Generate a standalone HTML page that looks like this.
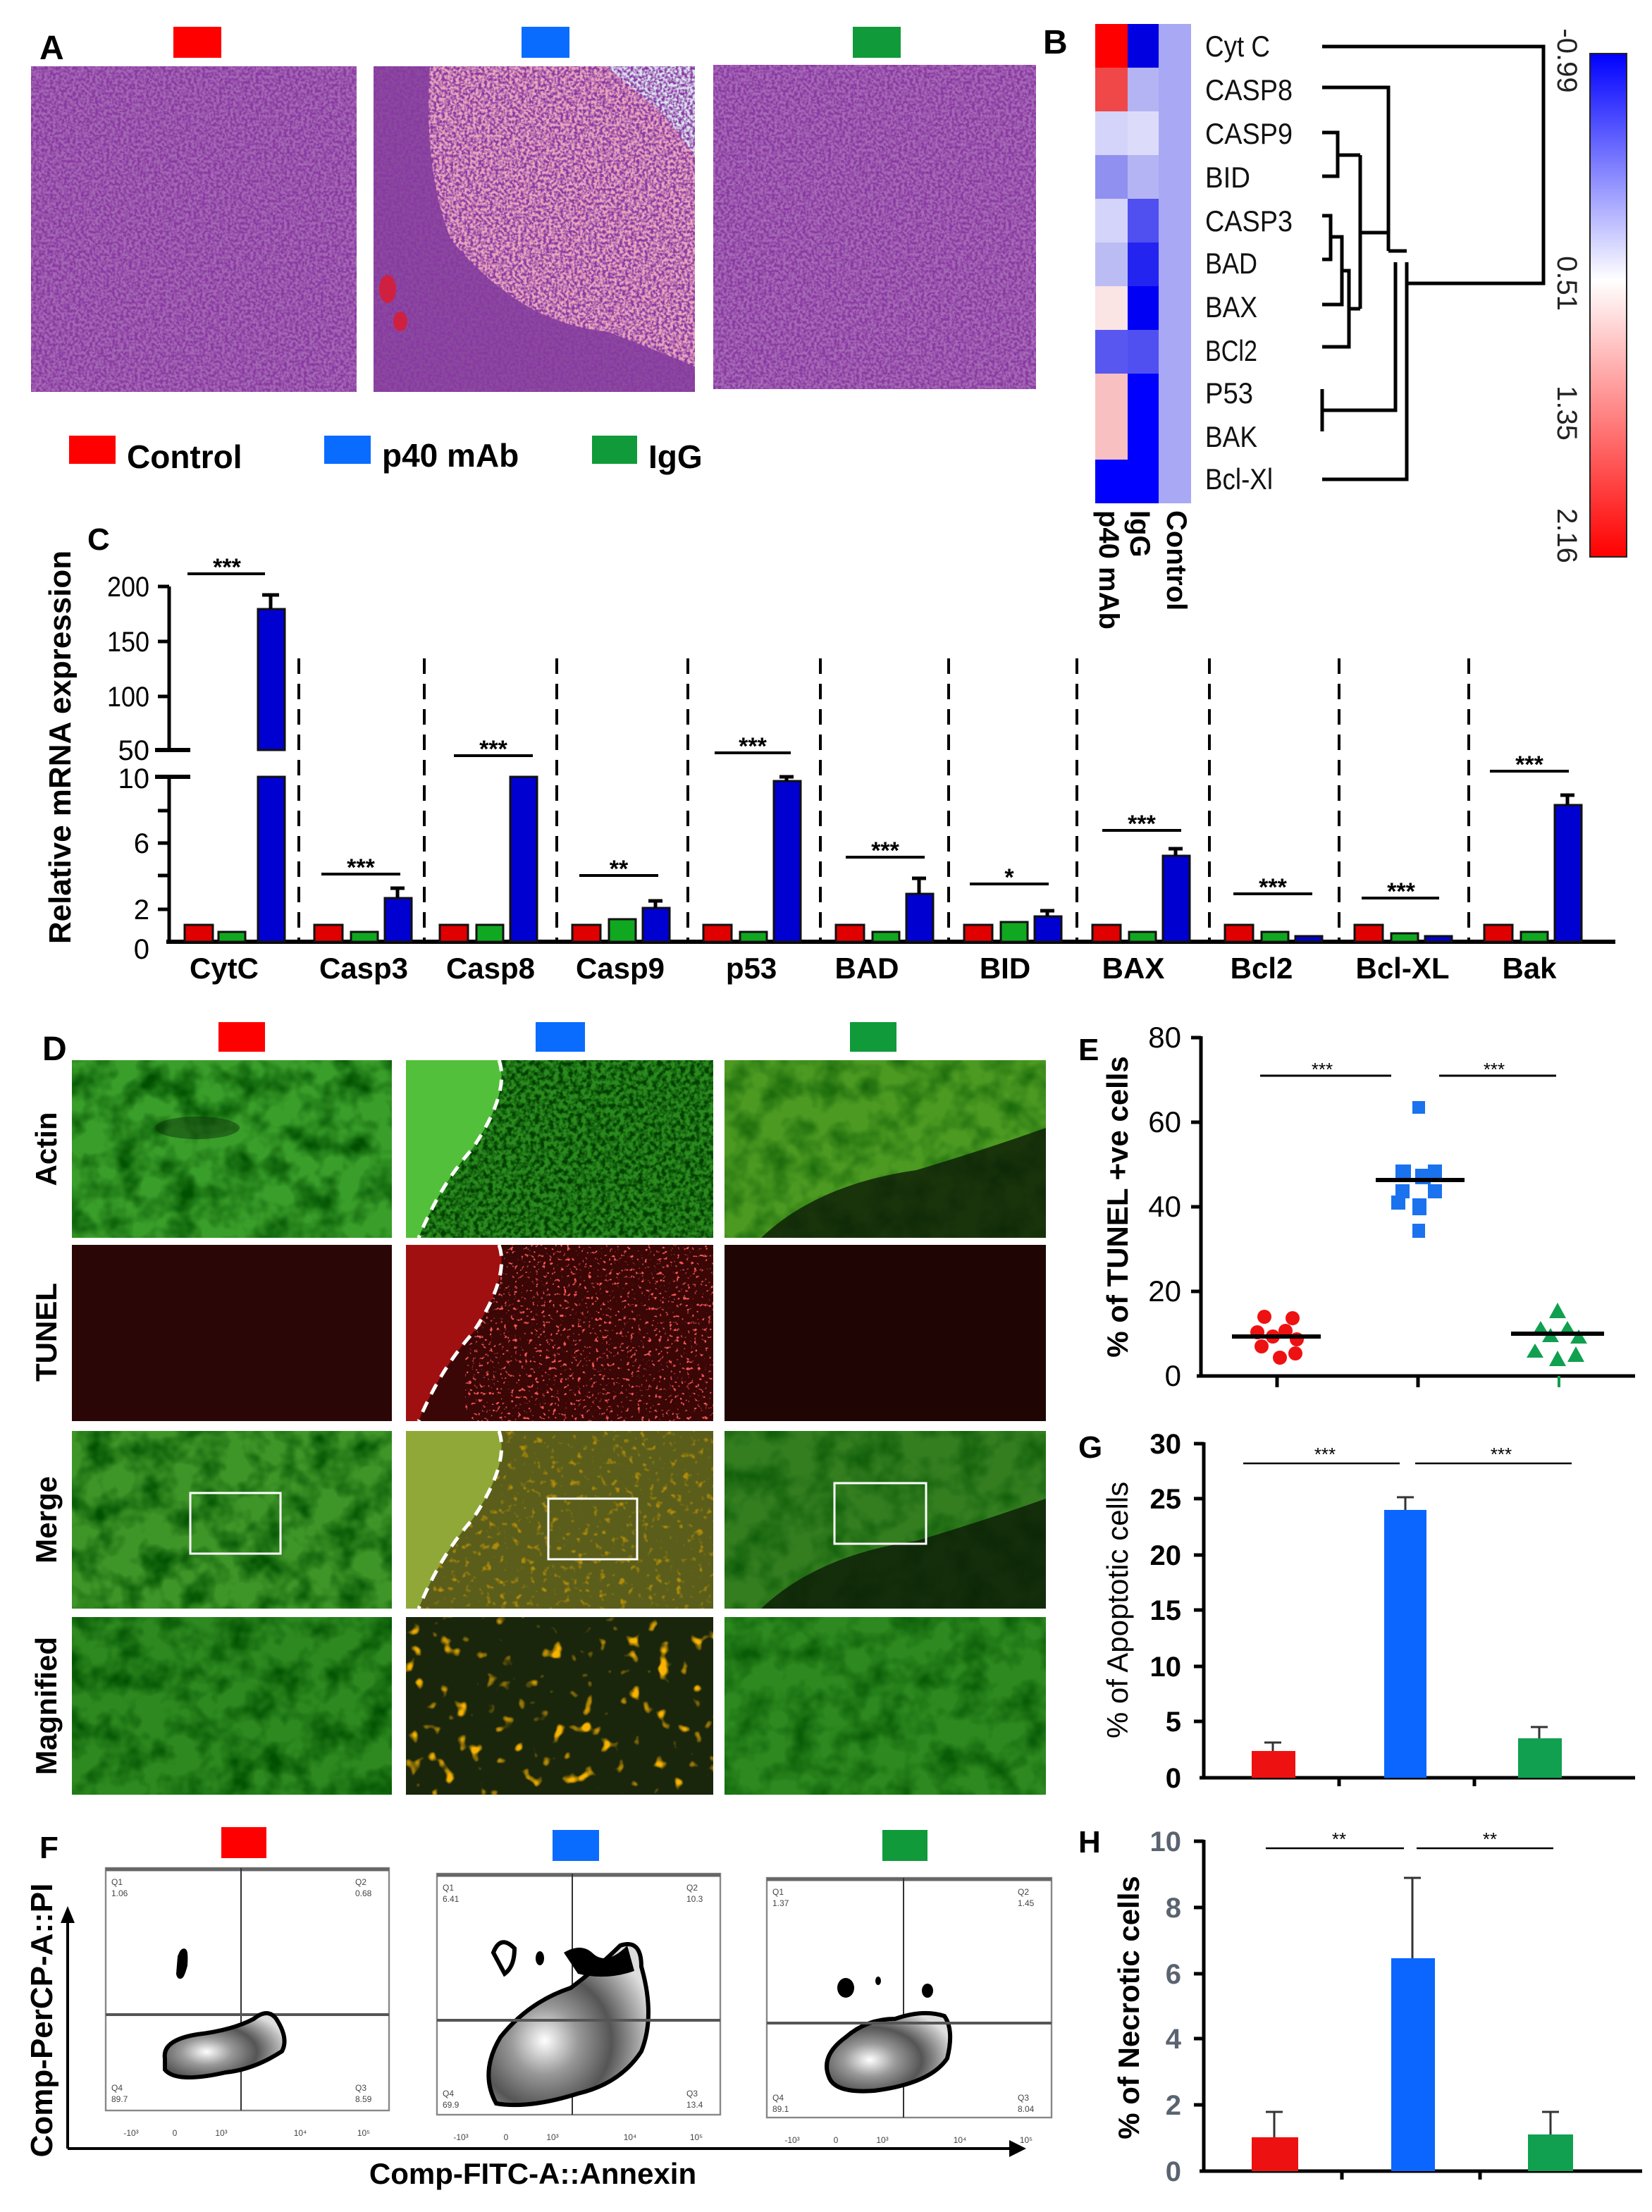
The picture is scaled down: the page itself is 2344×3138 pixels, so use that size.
<!DOCTYPE html>
<html><head><meta charset="utf-8"><style>
html,body{margin:0;padding:0;background:#fff}
svg{display:block}
text{font-family:"Liberation Sans",Arial,sans-serif}
</style></head><body>
<svg width="2344" height="3138" viewBox="0 0 1172 1569" xmlns="http://www.w3.org/2000/svg">
<defs>
<filter id="he" x="0" y="0" width="1" height="1"><feTurbulence type="fractalNoise" baseFrequency="0.5" numOctaves="2" seed="3"/><feColorMatrix type="matrix" values="0 0 0 0 0.25  0 0 0 0 0.04  0 0 0 0 0.36  -3.2 0 0 0 2.05"/></filter>
<filter id="he2" x="0" y="0" width="1" height="1"><feTurbulence type="fractalNoise" baseFrequency="0.12" numOctaves="3" seed="8"/><feColorMatrix type="matrix" values="0 0 0 0 0.75  0 0 0 0 0.45  0 0 0 0 0.6  -2 0 0 0 1.3"/></filter>
<filter id="gn" x="0" y="0" width="1" height="1"><feTurbulence type="fractalNoise" baseFrequency="0.05" numOctaves="3" seed="5"/><feColorMatrix type="matrix" values="0 0 0 0 0  0 0 0 0 0.08  0 0 0 0 0  -2.2 0 0 0 1.35"/></filter>
<filter id="gn2" x="0" y="0" width="1" height="1"><feTurbulence type="fractalNoise" baseFrequency="0.3" numOctaves="2" seed="9"/><feColorMatrix type="matrix" values="0 0 0 0 0  0 0 0 0 0.05  0 0 0 0 0  -3 0 0 0 1.9"/></filter>
<filter id="rd" x="0" y="0" width="1" height="1"><feTurbulence type="fractalNoise" baseFrequency="0.4" numOctaves="2" seed="11"/><feColorMatrix type="matrix" values="0 0 0 0 1  0 0 0 0 0.1  0 0 0 0 0.1  8 0 0 0 -5"/></filter>
<filter id="or" x="0" y="0" width="1" height="1"><feTurbulence type="fractalNoise" baseFrequency="0.09" numOctaves="2" seed="4"/><feColorMatrix type="matrix" values="0 0 0 0 0.95  0 0 0 0 0.45  0 0 0 0 0  7 0 0 0 -4.4"/></filter>
<filter id="og" x="0" y="0" width="1" height="1"><feTurbulence type="fractalNoise" baseFrequency="0.2" numOctaves="2" seed="6"/><feColorMatrix type="matrix" values="0 0 0 0 0.85  0 0 0 0 0.4  0 0 0 0 0  5 0 0 0 -3"/></filter>
<linearGradient id="cb" x1="0" y1="0" x2="0" y2="1"><stop offset="0" stop-color="#0000ff"/><stop offset="0.45" stop-color="#ffffff"/><stop offset="1" stop-color="#ff0000"/></linearGradient>
<radialGradient id="fl" cx="0.35" cy="0.6" r="0.7"><stop offset="0" stop-color="#fff"/><stop offset="0.3" stop-color="#999"/><stop offset="0.6" stop-color="#555"/><stop offset="1" stop-color="#ddd"/></radialGradient>
</defs>

<!-- ===== Panel A ===== -->
<text x="28" y="42" font-size="24" font-weight="bold">A</text>
<rect x="123" y="19" width="34" height="22" fill="#ff0000"/>
<rect x="370" y="19" width="34" height="22" fill="#0a6cff"/>
<rect x="605" y="19" width="34" height="22" fill="#109a3a"/>
<rect x="22" y="47" width="231" height="231" fill="#a468b4"/>
<rect x="22" y="47" width="231" height="231" filter="url(#he)"/>
<rect x="265" y="47" width="228" height="231" fill="#eaa6bc"/>
<rect x="265" y="47" width="228" height="231" filter="url(#he2)" opacity="0.35"/>
<path d="M430 47 L493 47 L493 110 L470 80 Z" fill="#dde4f0"/>
<path d="M265 47 L305 47 Q300 120 320 170 Q370 230 430 235 Q470 250 493 260 L493 278 L265 278 Z" fill="#8a4a9e"/>
<path d="M265 47 L305 47 Q300 120 320 170 Q370 230 430 235 Q470 250 493 260 L493 278 L265 278 Z" filter="url(#he)"/>
<ellipse cx="275" cy="205" rx="6" ry="10" fill="#d02040"/><ellipse cx="284" cy="228" rx="5" ry="7" fill="#d02040"/>
<rect x="506" y="46" width="229" height="230" fill="#a66ab6"/>
<rect x="506" y="46" width="229" height="230" filter="url(#he)"/>
<rect x="49" y="309" width="33" height="20" fill="#ff0000"/><text x="90" y="332" font-size="23" font-weight="bold">Control</text>
<rect x="230" y="309" width="33" height="20" fill="#0a6cff"/><text x="271" y="331" font-size="23" font-weight="bold">p40 mAb</text>
<rect x="420" y="309" width="32" height="20" fill="#109a3a"/><text x="460" y="332" font-size="23" font-weight="bold">IgG</text>

<!-- ===== Panel B ===== -->
<text x="740" y="38" font-size="24" font-weight="bold">B</text>
<g>
<rect x="822" y="17" width="23" height="340" fill="#a8a8f4"/>
<rect x="777" y="17" width="23" height="31" fill="#ff0000"/><rect x="800" y="17" width="22" height="31" fill="#0000e0"/>
<rect x="777" y="48" width="23" height="31" fill="#f04848"/><rect x="800" y="48" width="22" height="31" fill="#b4b4f4"/>
<rect x="777" y="79" width="23" height="31" fill="#d4d4fa"/><rect x="800" y="79" width="22" height="31" fill="#dcdcfa"/>
<rect x="777" y="110" width="23" height="31" fill="#9090f0"/><rect x="800" y="110" width="22" height="31" fill="#b4b4f4"/>
<rect x="777" y="141" width="23" height="31" fill="#d4d4fa"/><rect x="800" y="141" width="22" height="31" fill="#5050f0"/>
<rect x="777" y="172" width="23" height="31" fill="#bcbcf4"/><rect x="800" y="172" width="22" height="31" fill="#2424f0"/>
<rect x="777" y="203" width="23" height="31" fill="#fae4e4"/><rect x="800" y="203" width="22" height="31" fill="#0000f4"/>
<rect x="777" y="234" width="23" height="31" fill="#5858f0"/><rect x="800" y="234" width="22" height="31" fill="#5050f0"/>
<rect x="777" y="265" width="23" height="31" fill="#f8c0c0"/><rect x="800" y="265" width="22" height="31" fill="#0000ff"/>
<rect x="777" y="296" width="23" height="30" fill="#f8c0c0"/><rect x="800" y="296" width="22" height="30" fill="#0000ff"/>
<rect x="777" y="326" width="23" height="31" fill="#0000ff"/><rect x="800" y="326" width="22" height="31" fill="#0000ff"/>
</g>
<g font-size="21" fill="#111">
<text x="855" y="40" textLength="46" lengthAdjust="spacingAndGlyphs">Cyt C</text>
<text x="855" y="71" textLength="62" lengthAdjust="spacingAndGlyphs">CASP8</text>
<text x="855" y="102" textLength="62" lengthAdjust="spacingAndGlyphs">CASP9</text>
<text x="855" y="133" textLength="32" lengthAdjust="spacingAndGlyphs">BID</text>
<text x="855" y="164" textLength="62" lengthAdjust="spacingAndGlyphs">CASP3</text>
<text x="855" y="194" textLength="37" lengthAdjust="spacingAndGlyphs">BAD</text>
<text x="855" y="225" textLength="37" lengthAdjust="spacingAndGlyphs">BAX</text>
<text x="855" y="256" textLength="37" lengthAdjust="spacingAndGlyphs">BCl2</text>
<text x="855" y="286" textLength="34" lengthAdjust="spacingAndGlyphs">P53</text>
<text x="855" y="317" textLength="37" lengthAdjust="spacingAndGlyphs">BAK</text>
<text x="855" y="347" textLength="48" lengthAdjust="spacingAndGlyphs">Bcl-Xl</text>
</g>
<g stroke="#000" stroke-width="2.5" fill="none">
<path d="M938 33 H1095 V201 H998"/>
<path d="M938 62 H985 V178"/>
<path d="M938 94 H949 V125 H938 M949 110 H965"/>
<path d="M938 153 H944 V184 H938 M944 168 H952 V216 H938 M952 192 H957 V246 H938 M957 219 H965"/>
<path d="M965 110 V219 M965 165 H985"/>
<path d="M985 178 H998"/>
<path d="M938 276 V306 M938 291 H990 V186"/>
<path d="M938 340 H998 V186"/>
</g>
<rect x="1128" y="38" width="26" height="357" fill="url(#cb)" stroke="#222" stroke-width="1"/>
<g font-size="20" fill="#222">
<text transform="translate(1105,43) rotate(90)" text-anchor="middle">-0.99</text>
<text transform="translate(1105,201) rotate(90)" text-anchor="middle">0.51</text>
<text transform="translate(1105,293) rotate(90)" text-anchor="middle">1.35</text>
<text transform="translate(1105,380) rotate(90)" text-anchor="middle">2.16</text>
</g>
<g font-size="20" font-weight="bold">
<text transform="translate(780,362) rotate(90)">p40 mAb</text>
<text transform="translate(802,362) rotate(90)">IgG</text>
<text transform="translate(828,362) rotate(90)">Control</text>
</g>

<!-- ===== Panel C ===== -->
<text x="62" y="390" font-size="22" font-weight="bold">C</text>
<text transform="translate(50,530) rotate(-90)" text-anchor="middle" font-size="22" font-weight="bold">Relative mRNA expression</text>
<g stroke="#000" stroke-width="2.5">
<line x1="120" y1="416" x2="120" y2="532"/><line x1="120" y1="551" x2="120" y2="668"/>
<line x1="112" y1="416" x2="120" y2="416"/><line x1="112" y1="455" x2="120" y2="455"/><line x1="112" y1="494" x2="120" y2="494"/>
<line x1="110" y1="532" x2="135" y2="532" stroke-width="3"/><line x1="110" y1="551" x2="135" y2="551" stroke-width="3"/>
<line x1="112" y1="575" x2="120" y2="575"/><line x1="112" y1="598" x2="120" y2="598"/><line x1="112" y1="621" x2="120" y2="621"/><line x1="112" y1="645" x2="120" y2="645"/>
<line x1="118" y1="668" x2="1146" y2="668" stroke-width="3"/>
</g>
<g font-size="20" text-anchor="end">
<text x="106" y="423" textLength="30" lengthAdjust="spacingAndGlyphs">200</text><text x="106" y="462" textLength="30" lengthAdjust="spacingAndGlyphs">150</text><text x="106" y="501" textLength="30" lengthAdjust="spacingAndGlyphs">100</text><text x="106" y="539">50</text>
<text x="106" y="559">10</text><text x="106" y="605">6</text><text x="106" y="652">2</text><text x="106" y="680">0</text>
</g>
<g stroke="#000" stroke-width="2" stroke-dasharray="11,7">
<line x1="212" y1="467" x2="212" y2="668"/><line x1="301" y1="467" x2="301" y2="668"/><line x1="395" y1="467" x2="395" y2="668"/>
<line x1="488" y1="467" x2="488" y2="668"/><line x1="582" y1="467" x2="582" y2="668"/><line x1="673" y1="467" x2="673" y2="668"/>
<line x1="764" y1="467" x2="764" y2="668"/><line x1="858" y1="467" x2="858" y2="668"/><line x1="950" y1="467" x2="950" y2="668"/>
<line x1="1042" y1="467" x2="1042" y2="668"/>
</g>
<g stroke="#111" stroke-width="1.5">
<g fill="#e00000">
<rect x="131" y="656" width="20" height="12"/><rect x="223" y="656" width="20" height="12"/><rect x="312" y="656" width="20" height="12"/>
<rect x="406" y="656" width="20" height="12"/><rect x="499" y="656" width="20" height="12"/><rect x="593" y="656" width="20" height="12"/>
<rect x="684" y="656" width="20" height="12"/><rect x="775" y="656" width="20" height="12"/><rect x="869" y="656" width="20" height="12"/>
<rect x="961" y="656" width="20" height="12"/><rect x="1053" y="656" width="20" height="12"/>
</g>
<g fill="#10a820">
<rect x="155" y="661" width="19" height="7"/><rect x="249" y="661" width="19" height="7"/><rect x="338" y="656" width="19" height="12"/>
<rect x="432" y="652" width="19" height="16"/><rect x="525" y="661" width="19" height="7"/><rect x="619" y="661" width="19" height="7"/>
<rect x="710" y="654" width="19" height="14"/><rect x="801" y="661" width="19" height="7"/><rect x="895" y="661" width="19" height="7"/>
<rect x="987" y="662" width="19" height="6"/><rect x="1079" y="661" width="19" height="7"/>
</g>
<g fill="#0000d0">
<rect x="183" y="432" width="19" height="100"/><rect x="183" y="551" width="19" height="117"/>
<rect x="273" y="637" width="19" height="31"/><rect x="362" y="551" width="19" height="117"/>
<rect x="456" y="644" width="19" height="24"/><rect x="549" y="554" width="19" height="114"/>
<rect x="643" y="634" width="19" height="34"/><rect x="734" y="650" width="19" height="18"/>
<rect x="825" y="607" width="19" height="61"/><rect x="919" y="664" width="19" height="4"/>
<rect x="1011" y="664" width="19" height="4"/><rect x="1103" y="571" width="19" height="97"/>
</g>
</g>
<g stroke="#000" stroke-width="2.5">
<line x1="192" y1="432" x2="192" y2="422"/><line x1="186" y1="422" x2="198" y2="422"/>
<line x1="282" y1="637" x2="282" y2="630"/><line x1="277" y1="630" x2="287" y2="630"/>
<line x1="465" y1="644" x2="465" y2="639"/><line x1="460" y1="639" x2="470" y2="639"/>
<line x1="652" y1="634" x2="652" y2="623"/><line x1="647" y1="623" x2="657" y2="623"/>
<line x1="743" y1="650" x2="743" y2="646"/><line x1="738" y1="646" x2="748" y2="646"/>
<line x1="834" y1="607" x2="834" y2="602"/><line x1="829" y1="602" x2="839" y2="602"/>
<line x1="1112" y1="571" x2="1112" y2="564"/><line x1="1107" y1="564" x2="1117" y2="564"/>
<line x1="558" y1="554" x2="558" y2="551"/><line x1="553" y1="551" x2="563" y2="551"/>
</g>
<g stroke="#000" stroke-width="2">
<line x1="133" y1="407" x2="188" y2="407"/><line x1="228" y1="620" x2="284" y2="620"/><line x1="322" y1="536" x2="378" y2="536"/>
<line x1="411" y1="621" x2="467" y2="621"/><line x1="507" y1="534" x2="561" y2="534"/><line x1="600" y1="608" x2="656" y2="608"/>
<line x1="688" y1="627" x2="744" y2="627"/><line x1="782" y1="589" x2="838" y2="589"/><line x1="875" y1="634" x2="931" y2="634"/>
<line x1="966" y1="637" x2="1021" y2="637"/><line x1="1057" y1="547" x2="1113" y2="547"/>
</g>
<g font-size="17" font-weight="bold" text-anchor="middle">
<text x="161" y="408">***</text><text x="256" y="621">***</text><text x="350" y="537">***</text><text x="439" y="622">**</text>
<text x="534" y="535">***</text><text x="628" y="609">***</text><text x="716" y="628">*</text><text x="810" y="590">***</text>
<text x="903" y="635">***</text><text x="994" y="638">***</text><text x="1085" y="548">***</text>
</g>
<g font-size="21" font-weight="bold" text-anchor="middle">
<text x="159" y="694">CytC</text><text x="258" y="694">Casp3</text><text x="348" y="694">Casp8</text><text x="440" y="694">Casp9</text>
<text x="533" y="694">p53</text><text x="615" y="694">BAD</text><text x="713" y="694">BID</text><text x="804" y="694">BAX</text>
<text x="895" y="694">Bcl2</text><text x="995" y="694">Bcl-XL</text><text x="1085" y="694">Bak</text>
</g>

<!-- ===== Panel D ===== -->
<text x="30" y="752" font-size="24" font-weight="bold">D</text>
<rect x="155" y="725" width="33" height="21" fill="#ff0000"/>
<rect x="380" y="725" width="35" height="21" fill="#0a6cff"/>
<rect x="603" y="725" width="33" height="21" fill="#109a3a"/>
<g font-size="21" font-weight="bold" text-anchor="middle">
<text transform="translate(40,815) rotate(-90)">Actin</text>
<text transform="translate(40,945) rotate(-90)">TUNEL</text>
<text transform="translate(40,1078) rotate(-90)">Merge</text>
<text transform="translate(40,1210) rotate(-90)">Magnified</text>
</g>
<rect x="51" y="752" width="227" height="126" fill="#3a9e2a"/><rect x="51" y="752" width="227" height="126" filter="url(#gn)"/>
<ellipse cx="140" cy="800" rx="30" ry="8" fill="#0c2a08" opacity="0.45"/>
<rect x="288" y="752" width="218" height="126" fill="#2a8a1e"/><rect x="288" y="752" width="218" height="126" filter="url(#gn2)"/>
<path d="M288 752 L354 752 Q362 775 335 815 Q312 841 297 878 L288 878 Z" fill="#52c03a"/>
<rect x="514" y="752" width="228" height="126" fill="#4c9a22"/><rect x="514" y="752" width="228" height="126" filter="url(#gn)" opacity="0.7"/>
<path d="M540 878 Q580 840 650 830 Q700 815 742 800 L742 878 Z" fill="#0c1a06" opacity="0.8"/>
<rect x="51" y="883" width="227" height="125" fill="#2a0706"/>
<rect x="288" y="883" width="218" height="125" fill="#3a0606"/><rect x="330" y="883" width="176" height="125" filter="url(#rd)"/>
<path d="M288 883 L354 883 Q362 906 335 946 Q312 972 297 1008 L288 1008 Z" fill="#a01010"/>
<rect x="514" y="883" width="228" height="125" fill="#200505"/>
<rect x="51" y="1015" width="227" height="126" fill="#3f9628"/><rect x="51" y="1015" width="227" height="126" filter="url(#gn)"/>
<rect x="288" y="1015" width="218" height="126" fill="#5a5e1a"/><rect x="288" y="1015" width="218" height="126" filter="url(#og)" opacity="0.6"/>
<path d="M288 1015 L354 1015 Q362 1038 335 1078 Q312 1104 297 1141 L288 1141 Z" fill="#90a838"/>
<rect x="514" y="1015" width="228" height="126" fill="#347e20"/><rect x="514" y="1015" width="228" height="126" filter="url(#gn)" opacity="0.7"/>
<path d="M540 1141 Q580 1103 650 1093 Q700 1078 742 1063 L742 1141 Z" fill="#0c1a06" opacity="0.8"/>
<rect x="135" y="1059" width="64" height="43" fill="none" stroke="#fff" stroke-width="1.5"/>
<rect x="389" y="1063" width="63" height="43" fill="none" stroke="#fff" stroke-width="1.5"/>
<rect x="592" y="1052" width="65" height="43" fill="none" stroke="#fff" stroke-width="1.5"/>
<rect x="51" y="1147" width="227" height="126" fill="#2e8a20"/><rect x="51" y="1147" width="227" height="126" filter="url(#gn)"/>
<rect x="288" y="1147" width="218" height="126" fill="#1a260c"/><rect x="288" y="1147" width="218" height="126" filter="url(#or)"/>
<rect x="514" y="1147" width="228" height="126" fill="#2e8a20"/><rect x="514" y="1147" width="228" height="126" filter="url(#gn)" opacity="0.8"/>
<g fill="none" stroke="#fff" stroke-width="2.5" stroke-dasharray="8,6">
<path d="M354 752 Q362 775 335 815 Q312 841 297 878"/>
<path d="M354 883 Q362 906 335 946 Q312 972 297 1008"/>
<path d="M354 1015 Q362 1038 335 1078 Q312 1104 297 1141"/>
</g>

<!-- ===== Panel E ===== -->
<text x="765" y="752" font-size="22" font-weight="bold">E</text>
<text transform="translate(800,856) rotate(-90)" text-anchor="middle" font-size="21" font-weight="bold">% of TUNEL +ve cells</text>
<g stroke="#000" stroke-width="2.5">
<line x1="852" y1="735" x2="852" y2="977"/><line x1="849" y1="976" x2="1160" y2="976"/>
<line x1="845" y1="736" x2="852" y2="736"/><line x1="845" y1="796" x2="852" y2="796"/><line x1="845" y1="856" x2="852" y2="856"/><line x1="845" y1="916" x2="852" y2="916"/>
<line x1="906" y1="976" x2="906" y2="984"/><line x1="1006" y1="976" x2="1006" y2="984"/>
</g>
<g font-size="21" text-anchor="end">
<text x="838" y="743">80</text><text x="838" y="803">60</text><text x="838" y="863">40</text><text x="838" y="923">20</text><text x="838" y="983">0</text>
</g>
<g stroke="#000" stroke-width="1.5"><line x1="894" y1="763" x2="987" y2="763"/><line x1="1021" y1="763" x2="1104" y2="763"/></g>
<g font-size="13" text-anchor="middle"><text x="938" y="763">***</text><text x="1060" y="763">***</text></g>
<g fill="#ee1111">
<circle cx="897" cy="934" r="5"/><circle cx="917" cy="935" r="5"/><circle cx="892" cy="945" r="5"/><circle cx="903" cy="948" r="5"/>
<circle cx="912" cy="944" r="5"/><circle cx="920" cy="950" r="5"/><circle cx="895" cy="955" r="5"/><circle cx="908" cy="963" r="5"/><circle cx="919" cy="960" r="5"/>
</g>
<g fill="#1a72ee">
<rect x="1002" y="781" width="9" height="9"/><rect x="990" y="826" width="11" height="11"/><rect x="1004" y="829" width="11" height="11"/>
<rect x="1013" y="826" width="10" height="11"/><rect x="990" y="840" width="10" height="10"/><rect x="1013" y="840" width="10" height="10"/>
<rect x="987" y="848" width="10" height="10"/><rect x="1002" y="850" width="10" height="12"/><rect x="1002" y="868" width="9" height="10"/>
</g>
<g fill="#10a050">
<path d="M1105 924 l6 11 h-12z"/><path d="M1093 937 l6 10 h-12z"/><path d="M1112 937 l6 10 h-12z"/><path d="M1100 942 l6 10 h-12z"/>
<path d="M1120 943 l6 10 h-12z"/><path d="M1089 953 l6 10 h-12z"/><path d="M1118 955 l6 11 h-12z"/><path d="M1105 958 l6 11 h-12z"/>
</g>
<g stroke="#000" stroke-width="3">
<line x1="874" y1="948" x2="937" y2="948"/><line x1="976" y1="837" x2="1039" y2="837"/><line x1="1072" y1="946" x2="1138" y2="946"/>
</g>
<line x1="1106" y1="976" x2="1106" y2="984" stroke="#10a050" stroke-width="2"/>

<!-- ===== Panel G ===== -->
<text x="765" y="1034" font-size="22" font-weight="bold">G</text>
<text transform="translate(800,1142) rotate(-90)" text-anchor="middle" font-size="21">% of Apoptotic cells</text>
<g stroke="#000" stroke-width="2.5">
<line x1="854" y1="1023" x2="854" y2="1262"/><line x1="851" y1="1261" x2="1160" y2="1261"/>
<line x1="847" y1="1024" x2="854" y2="1024"/><line x1="847" y1="1063" x2="854" y2="1063"/><line x1="847" y1="1103" x2="854" y2="1103"/>
<line x1="847" y1="1142" x2="854" y2="1142"/><line x1="847" y1="1182" x2="854" y2="1182"/><line x1="847" y1="1221" x2="854" y2="1221"/>
<line x1="950" y1="1261" x2="950" y2="1267"/><line x1="1046" y1="1261" x2="1046" y2="1267"/>
</g>
<g font-size="20" font-weight="bold" text-anchor="end">
<text x="838" y="1031">30</text><text x="838" y="1070">25</text><text x="838" y="1110">20</text><text x="838" y="1149">15</text>
<text x="838" y="1189">10</text><text x="838" y="1228">5</text><text x="838" y="1268">0</text>
</g>
<g stroke="#000" stroke-width="1.2"><line x1="882" y1="1038" x2="993" y2="1038"/><line x1="1004" y1="1038" x2="1115" y2="1038"/></g>
<g font-size="13" text-anchor="middle"><text x="940" y="1036">***</text><text x="1065" y="1036">***</text></g>
<rect x="888" y="1242" width="31" height="19" fill="#ee1111"/>
<rect x="982" y="1071" width="30" height="190" fill="#0a66ff"/>
<rect x="1077" y="1233" width="31" height="28" fill="#10a050"/>
<g stroke="#333" stroke-width="1.5">
<line x1="903" y1="1242" x2="903" y2="1236"/><line x1="897" y1="1236" x2="909" y2="1236"/>
<line x1="997" y1="1071" x2="997" y2="1062"/><line x1="991" y1="1062" x2="1003" y2="1062"/>
<line x1="1092" y1="1233" x2="1092" y2="1225"/><line x1="1086" y1="1225" x2="1098" y2="1225"/>
</g>

<!-- ===== Panel H ===== -->
<text x="765" y="1314" font-size="22" font-weight="bold">H</text>
<text transform="translate(808,1424) rotate(-90)" text-anchor="middle" font-size="21" font-weight="bold">% of Necrotic cells</text>
<g stroke="#000" stroke-width="2.5">
<line x1="854" y1="1305" x2="854" y2="1541"/><line x1="851" y1="1540" x2="1165" y2="1540"/>
<line x1="847" y1="1306" x2="854" y2="1306"/><line x1="847" y1="1353" x2="854" y2="1353"/><line x1="847" y1="1400" x2="854" y2="1400"/>
<line x1="847" y1="1446" x2="854" y2="1446"/><line x1="847" y1="1493" x2="854" y2="1493"/>
<line x1="952" y1="1540" x2="952" y2="1546"/><line x1="1050" y1="1540" x2="1050" y2="1546"/>
</g>
<g font-size="20" font-weight="bold" text-anchor="end" fill="#5a6470">
<text x="838" y="1313">10</text><text x="838" y="1360">8</text><text x="838" y="1407">6</text><text x="838" y="1453">4</text>
<text x="838" y="1500">2</text><text x="838" y="1547">0</text>
</g>
<g stroke="#000" stroke-width="1.2"><line x1="898" y1="1311" x2="996" y2="1311"/><line x1="1005" y1="1311" x2="1102" y2="1311"/></g>
<g font-size="13" text-anchor="middle"><text x="950" y="1309">**</text><text x="1057" y="1309">**</text></g>
<rect x="888" y="1516" width="33" height="24" fill="#ee1111"/>
<rect x="987" y="1389" width="31" height="151" fill="#0a66ff"/>
<rect x="1084" y="1514" width="32" height="26" fill="#10a050"/>
<g stroke="#333" stroke-width="1.5">
<line x1="904" y1="1516" x2="904" y2="1498"/><line x1="898" y1="1498" x2="910" y2="1498"/>
<line x1="1002" y1="1389" x2="1002" y2="1332"/><line x1="996" y1="1332" x2="1008" y2="1332"/>
<line x1="1100" y1="1514" x2="1100" y2="1498"/><line x1="1094" y1="1498" x2="1106" y2="1498"/>
</g>

<!-- ===== Panel F ===== -->
<text x="28" y="1318" font-size="22" font-weight="bold">F</text>
<rect x="157" y="1296" width="32" height="22" fill="#ff0000"/>
<rect x="392" y="1298" width="33" height="22" fill="#0a6cff"/>
<rect x="626" y="1298" width="32" height="22" fill="#109a3a"/>
<text transform="translate(37,1433) rotate(-90)" text-anchor="middle" font-size="22" font-weight="bold">Comp-PerCP-A::PI</text>
<text x="378" y="1549" text-anchor="middle" font-size="21" font-weight="bold">Comp-FITC-A::Annexin</text>
<g stroke="#000" stroke-width="2">
<line x1="48" y1="1524" x2="722" y2="1524"/><line x1="48" y1="1524" x2="48" y2="1360"/>
</g>
<path d="M728 1524 l-12 -6 v12z" fill="#000"/><path d="M48 1352 l-5 12 h10z" fill="#000"/>
<g>
<rect x="75" y="1325" width="201" height="172" fill="#fff" stroke="#888" stroke-width="1.2"/>
<line x1="75" y1="1326" x2="276" y2="1326" stroke="#666" stroke-width="2.5"/>
<line x1="171" y1="1325" x2="171" y2="1497" stroke="#333" stroke-width="1"/>
<line x1="75" y1="1429" x2="276" y2="1429" stroke="#555" stroke-width="2"/>
<path d="M117 1460 Q115 1447 140 1443 Q165 1440 180 1432 Q190 1424 196 1432 Q205 1446 200 1455 Q180 1468 160 1470 Q125 1478 117 1468 Z" fill="url(#fl)" stroke="#000" stroke-width="3"/>
<path d="M128 1388 Q132 1378 131 1394 Q128 1405 127 1400 Z" fill="#000" stroke="#000" stroke-width="4"/>
<g font-size="6" fill="#444"><text x="79" y="1337">Q1</text><text x="79" y="1345">1.06</text><text x="252" y="1337">Q2</text><text x="252" y="1345">0.68</text>
<text x="79" y="1483">Q4</text><text x="79" y="1491">89.7</text><text x="252" y="1483">Q3</text><text x="252" y="1491">8.59</text></g>
</g>
<g>
<rect x="310" y="1329" width="201" height="171" fill="#fff" stroke="#888" stroke-width="1.2"/>
<line x1="310" y1="1330" x2="511" y2="1330" stroke="#666" stroke-width="2.5"/>
<line x1="406" y1="1329" x2="406" y2="1500" stroke="#333" stroke-width="1"/>
<path d="M352 1492 Q340 1470 355 1445 Q375 1420 405 1410 Q425 1395 440 1380 Q455 1375 455 1395 Q465 1430 455 1455 Q440 1478 410 1485 Q375 1496 352 1492 Z" fill="url(#fl)" stroke="#000" stroke-width="3"/>
<line x1="310" y1="1433" x2="511" y2="1433" stroke="#555" stroke-width="2"/>
<path d="M350 1385 Q355 1372 365 1382 Q365 1395 358 1400 Z" fill="none" stroke="#000" stroke-width="3"/>
<ellipse cx="383" cy="1389" rx="3" ry="5" fill="#000"/>
<path d="M400 1385 Q412 1378 420 1385 Q430 1395 445 1380 L450 1398 Q430 1405 410 1400 Z" fill="#000"/>
<g font-size="6" fill="#444"><text x="314" y="1341">Q1</text><text x="314" y="1349">6.41</text><text x="487" y="1341">Q2</text><text x="487" y="1349">10.3</text>
<text x="314" y="1487">Q4</text><text x="314" y="1495">69.9</text><text x="487" y="1487">Q3</text><text x="487" y="1495">13.4</text></g>
</g>
<g>
<rect x="544" y="1332" width="202" height="170" fill="#fff" stroke="#888" stroke-width="1.2"/>
<line x1="544" y1="1333" x2="746" y2="1333" stroke="#666" stroke-width="2.5"/>
<line x1="641" y1="1332" x2="641" y2="1502" stroke="#333" stroke-width="1"/>
<path d="M588 1473 Q582 1458 600 1445 Q615 1432 635 1432 Q655 1425 670 1430 Q677 1440 672 1460 Q660 1478 620 1483 Q592 1485 588 1473 Z" fill="url(#fl)" stroke="#000" stroke-width="3"/>
<line x1="544" y1="1435" x2="746" y2="1435" stroke="#555" stroke-width="2"/>
<ellipse cx="600" cy="1410" rx="6" ry="7" fill="#000"/><ellipse cx="623" cy="1405" rx="2" ry="3" fill="#000"/><ellipse cx="658" cy="1412" rx="4" ry="5" fill="#000"/>
<g font-size="6" fill="#444"><text x="548" y="1344">Q1</text><text x="548" y="1352">1.37</text><text x="722" y="1344">Q2</text><text x="722" y="1352">1.45</text>
<text x="548" y="1490">Q4</text><text x="548" y="1498">89.1</text><text x="722" y="1490">Q3</text><text x="722" y="1498">8.04</text></g>
</g>
<g font-size="6" fill="#444" text-anchor="middle">
<text x="93" y="1515">-10³</text><text x="124" y="1515">0</text><text x="157" y="1515">10³</text><text x="213" y="1515">10⁴</text><text x="258" y="1515">10⁵</text>
<text x="327" y="1518">-10³</text><text x="359" y="1518">0</text><text x="392" y="1518">10³</text><text x="447" y="1518">10⁴</text><text x="494" y="1518">10⁵</text>
<text x="562" y="1520">-10³</text><text x="593" y="1520">0</text><text x="626" y="1520">10³</text><text x="681" y="1520">10⁴</text><text x="728" y="1520">10⁵</text>
</g>
</svg>
</body></html>
